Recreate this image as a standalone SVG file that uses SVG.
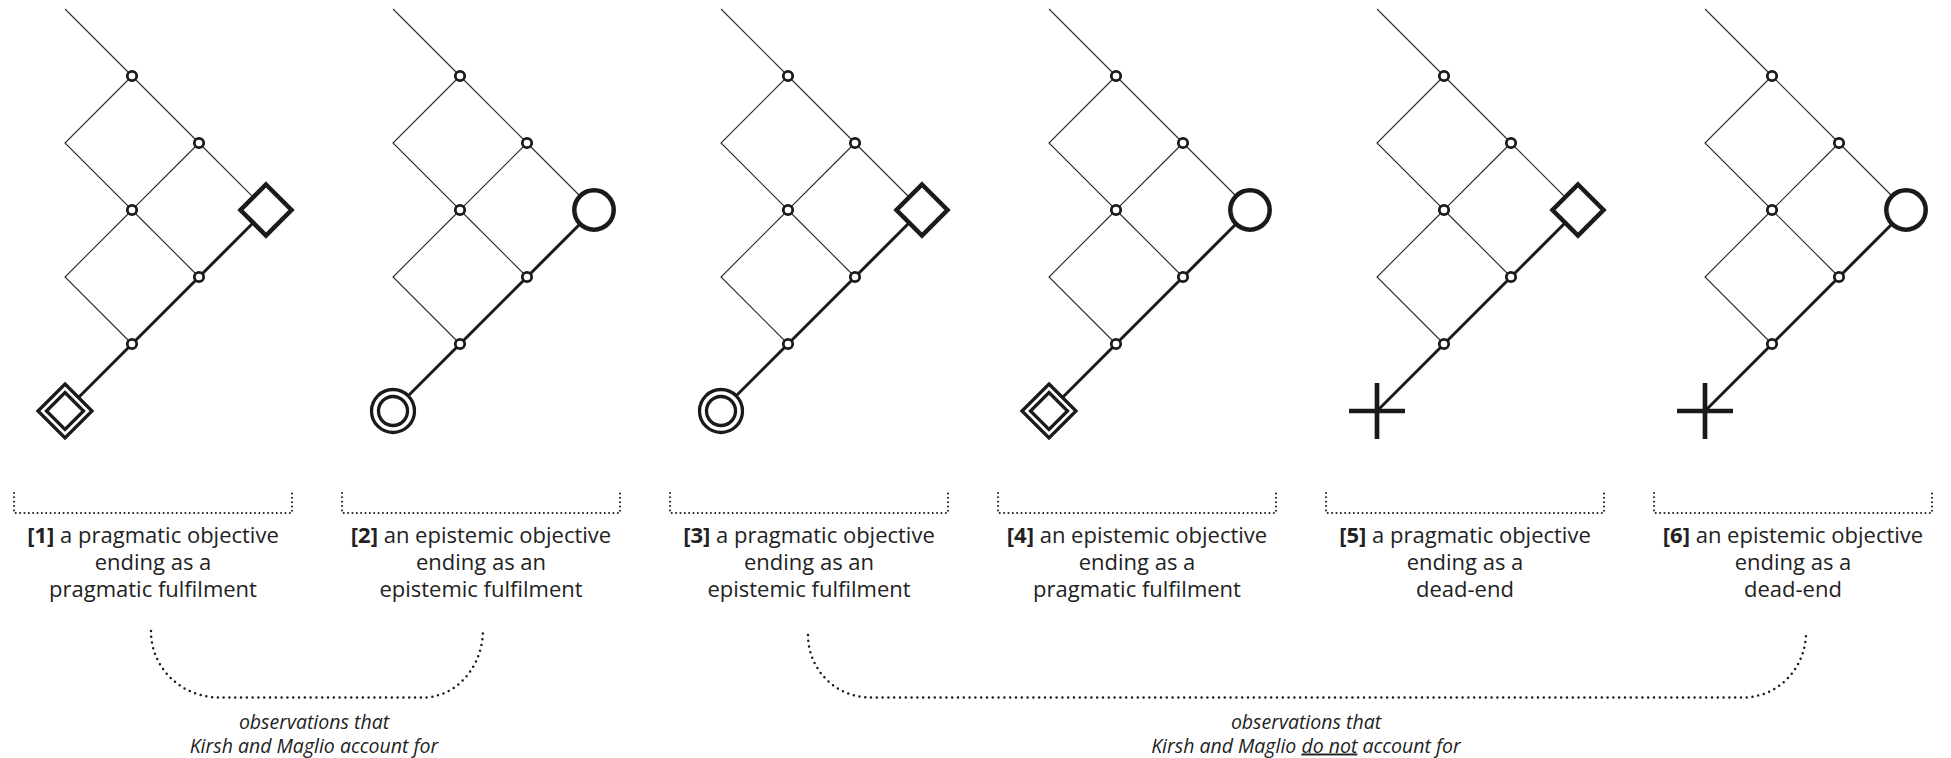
<svg xmlns="http://www.w3.org/2000/svg" xmlns:xlink="http://www.w3.org/1999/xlink" width="1951" height="758" viewBox="0 0 1951 758">
  <style>
    .thin { fill: none; stroke: #2a2a2a; stroke-width: 1.1; }
    .thick { fill: none; stroke: #1a1a1a; stroke-width: 3; stroke-linecap: round; }
    .node { fill: #fff; stroke: #1a1a1a; stroke-width: 2.8; }
    .goal { fill: #fff; stroke: #1a1a1a; stroke-width: 4.5; }
    .start { fill: #fff; stroke: #1a1a1a; stroke-width: 3.3; }
    .cross { stroke: #1a1a1a; stroke-width: 4.7; }
    .bracket { fill: none; stroke: #1a1a1a; stroke-width: 2; stroke-linecap: round; stroke-dasharray: 0 4.35; }
    .brace { fill: none; stroke: #1a1a1a; stroke-width: 2.5; stroke-linecap: round; stroke-dasharray: 0 5.8; }
    .label { font-family: "Open Sans", "Noto Sans", "Liberation Sans", sans-serif; font-size: 22px; fill: #222; text-anchor: middle; }
    .note { font-family: "Open Sans", "Noto Sans", "Liberation Sans", sans-serif; font-size: 19.5px; font-style: italic; fill: #222; text-anchor: middle; }
    .num { font-weight: bold; }
  </style>
  <defs>
    <!-- the search lattice, drawn with x0 at the origin -->
    <g id="lattice">
      <path class="thin" d="M0,9 L67,76 L134,143 L201,210"/>
      <path class="thin" d="M67,76 L0,143 L67,210 L134,143"/>
      <path class="thin" d="M67,210 L0,277 L67,344"/>
      <path class="thin" d="M67,210 L134,277"/>
      <path class="thick" d="M0,411 L67,344 L134,277 L201,210"/>
    </g>
    <g id="steps">
      <circle class="node" cx="67" cy="76" r="4.7"/>
      <circle class="node" cx="134" cy="143" r="4.7"/>
      <circle class="node" cx="67" cy="210" r="4.7"/>
      <circle class="node" cx="134" cy="277" r="4.7"/>
      <circle class="node" cx="67" cy="344" r="4.7"/>
    </g>
    <polygon id="end-diamond" class="goal" points="0,-25.5 25.5,0 0,25.5 -25.5,0"/>
    <circle id="end-circle" class="goal" r="19.7"/>
    <g id="start-diamond">
      <polygon class="start" points="0,-27 27,0 0,27 -27,0"/>
      <polygon class="start" points="0,-18.5 18.5,0 0,18.5 -18.5,0"/>
    </g>
    <g id="start-circle">
      <circle class="start" r="21.5"/>
      <circle class="start" r="14.5"/>
    </g>
    <g id="dead-end">
      <line class="cross" x1="-28" y1="0" x2="28" y2="0"/>
      <line class="cross" x1="0" y1="-28" x2="0" y2="28"/>
    </g>
    <path id="bracket" class="bracket" d="M-51,493 V513 H227 V493"/>
  </defs>

  <!-- [1] -->
  <g id="panel-1" transform="translate(65,0)">
    <use xlink:href="#lattice"/>
    <use xlink:href="#steps"/>
    <use xlink:href="#end-diamond" x="201" y="210"/>
    <use xlink:href="#start-diamond" x="0" y="411"/>
    <use xlink:href="#bracket"/>
    <text class="label" x="88" y="543"><tspan class="num">[1]</tspan> a pragmatic objective</text>
    <text class="label" x="88" y="570">ending as a</text>
    <text class="label" x="88" y="597">pragmatic fulfilment</text>
  </g>

  <!-- [2] -->
  <g id="panel-2" transform="translate(393,0)">
    <use xlink:href="#lattice"/>
    <use xlink:href="#steps"/>
    <use xlink:href="#end-circle" x="201" y="210"/>
    <use xlink:href="#start-circle" x="0" y="411"/>
    <use xlink:href="#bracket"/>
    <text class="label" x="88" y="543"><tspan class="num">[2]</tspan> an epistemic objective</text>
    <text class="label" x="88" y="570">ending as an</text>
    <text class="label" x="88" y="597">epistemic fulfilment</text>
  </g>

  <!-- [3] -->
  <g id="panel-3" transform="translate(721,0)">
    <use xlink:href="#lattice"/>
    <use xlink:href="#steps"/>
    <use xlink:href="#end-diamond" x="201" y="210"/>
    <use xlink:href="#start-circle" x="0" y="411"/>
    <use xlink:href="#bracket"/>
    <text class="label" x="88" y="543"><tspan class="num">[3]</tspan> a pragmatic objective</text>
    <text class="label" x="88" y="570">ending as an</text>
    <text class="label" x="88" y="597">epistemic fulfilment</text>
  </g>

  <!-- [4] -->
  <g id="panel-4" transform="translate(1049,0)">
    <use xlink:href="#lattice"/>
    <use xlink:href="#steps"/>
    <use xlink:href="#end-circle" x="201" y="210"/>
    <use xlink:href="#start-diamond" x="0" y="411"/>
    <use xlink:href="#bracket"/>
    <text class="label" x="88" y="543"><tspan class="num">[4]</tspan> an epistemic objective</text>
    <text class="label" x="88" y="570">ending as a</text>
    <text class="label" x="88" y="597">pragmatic fulfilment</text>
  </g>

  <!-- [5] -->
  <g id="panel-5" transform="translate(1377,0)">
    <use xlink:href="#lattice"/>
    <use xlink:href="#steps"/>
    <use xlink:href="#end-diamond" x="201" y="210"/>
    <use xlink:href="#dead-end" x="0" y="411"/>
    <use xlink:href="#bracket"/>
    <text class="label" x="88" y="543"><tspan class="num">[5]</tspan> a pragmatic objective</text>
    <text class="label" x="88" y="570">ending as a</text>
    <text class="label" x="88" y="597">dead-end</text>
  </g>

  <!-- [6] -->
  <g id="panel-6" transform="translate(1705,0)">
    <use xlink:href="#lattice"/>
    <use xlink:href="#steps"/>
    <use xlink:href="#end-circle" x="201" y="210"/>
    <use xlink:href="#dead-end" x="0" y="411"/>
    <use xlink:href="#bracket"/>
    <text class="label" x="88" y="543"><tspan class="num">[6]</tspan> an epistemic objective</text>
    <text class="label" x="88" y="570">ending as a</text>
    <text class="label" x="88" y="597">dead-end</text>
  </g>

  <!-- grouping braces -->
  <g id="connectors">
    <path class="brace" d="M151,631 A68,66 0 0 0 219,697.5 H423 A60,68 0 0 0 483,629"/>
    <path class="brace" d="M808,635 A62,62.5 0 0 0 870,697.5 H1743 A63,65 0 0 0 1806,632"/>
  </g>

  <g id="group-accounted">
    <text class="note" x="314" y="728.5">observations that</text>
    <text class="note" x="314" y="752.5">Kirsh and Maglio account for</text>
  </g>

  <g id="group-unaccounted">
    <text class="note" x="1306" y="728.5">observations that</text>
    <text class="note" x="1306" y="752.5">Kirsh and Maglio <tspan style="text-decoration: underline">do not</tspan> account for</text>
  </g>
</svg>
